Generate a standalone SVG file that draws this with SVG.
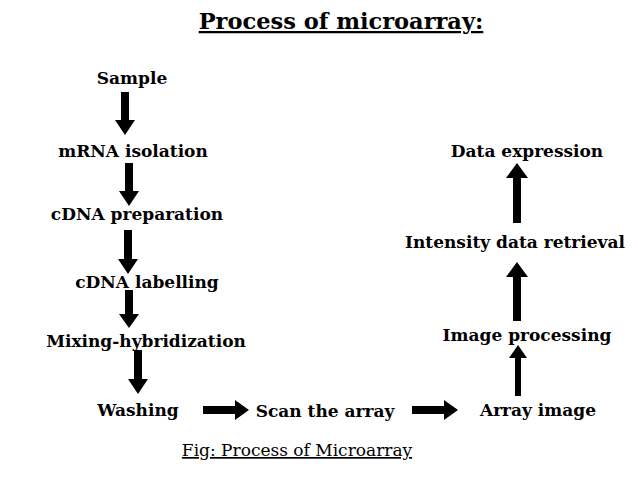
<svg xmlns="http://www.w3.org/2000/svg" width="638" height="478" viewBox="0 0 638 478">
<style>
text{font-family:"DejaVu Serif","Liberation Serif",serif;font-weight:bold;font-size:17px;fill:#000;text-anchor:middle}
.t{font-size:22.5px;text-decoration:underline}
.c{font-weight:normal;font-size:17px;text-decoration:underline}
.a{fill:#000}
</style>
<rect width="638" height="478" fill="#fff"/>
<text class="t" x="341" y="29">Process of microarray:</text>
<g id="n1"><text x="132" y="84">Sample</text></g>
<g id="n2"><text x="133" y="157">mRNA isolation</text></g>
<g id="n3"><text x="137" y="220">cDNA preparation</text></g>
<g id="n4"><text x="147" y="288">cDNA labelling</text></g>
<g id="n5"><text x="146" y="347">Mixing-hybridization</text></g>
<g id="n6"><text x="138" y="416">Washing</text></g>
<g id="n7"><text x="325" y="417">Scan the array</text></g>
<g id="n8"><text x="538" y="416">Array image</text></g>
<g id="n9"><text x="527" y="341">Image processing</text></g>
<g id="n10"><text x="515" y="248">Intensity data retrieval</text></g>
<g id="n11"><text x="527" y="157">Data expression</text></g>
<g id="connectors" class="a">
<path d="M121 92h8v28h6l-10 15l-10-15h6z"/>
<path d="M125 163h8v28h6l-10 15l-10-15h6z"/>
<path d="M124 230h8v29h6l-10 15l-10-15h6z"/>
<path d="M125 290h8v24h6l-10 14l-10-14h6z"/>
<path d="M134 350h8v29h6l-10 15l-10-15h6z"/>
<path d="M203 406h32v-6l14 10l-14 10v-6h-32z"/>
<path d="M412 406h32v-6l14 10l-14 10v-6h-32z"/>
<path d="M513 223v-45h-7l11-15l11 15h-7v45z"/>
<path d="M513 321v-44h-7l11-15l11 15h-7v44z"/>
<path d="M515 396v-38h-6l9-13l9 13h-6v38z"/>
</g>
<text class="c" x="297" y="456">Fig: Process of Microarray</text>
</svg>
